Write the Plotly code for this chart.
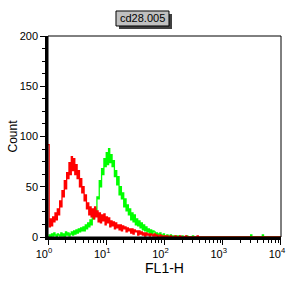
import numpy as np
import plotly.graph_objects as go

# log10 channel step of the histogram bins
bin_step = 0.02
red_counts = [
    92, 10, 18, 11, 20, 15, 24, 17, 28, 22, 36,
    30, 46, 40, 56, 48, 64, 58, 74, 62, 80,
    66, 78, 62, 72, 58, 66, 50, 58, 44, 50,
    36, 42, 28, 34, 22, 30, 20, 28, 18, 30,
    20, 26, 15, 24, 14, 22, 16, 23, 12, 20,
    14, 19, 10, 16, 11, 15, 8, 14, 9, 12,
    7, 12, 6, 11, 8, 10, 5, 9, 6, 8,
    4, 8, 3, 7, 5, 6, 2, 6, 3, 5,
    2, 4, 1, 4, 2, 3, 1, 3, 2, 1,
    3, 1, 2, 0, 1, 2, 0, 1, 0, 1,
    0, 1, 0, 0, 1, 0, 0, 0, 1, 0,
    0, 0, 1, 0, 0, 0, 0, 1, 0, 0,
    0, 0, 0, 0, 0, 0, 0, 1, 0, 0,
    0, 0, 0, 0, 0, 0, 0, 0, 0, 0,
    0, 0, 0, 0, 0, 0, 0, 0, 0, 0,
    0, 0, 0, 0, 0, 0, 0, 0, 0, 0,
    0, 0, 0, 0, 0, 0, 0, 0, 0, 0,
    0, 0, 0, 0, 0, 0, 0, 0, 0, 0,
    0, 0, 0, 0, 0, 0, 0, 0, 0, 0,
    0, 0, 0, 0, 0, 0, 0, 0, 0, 0,
]
green_counts = [
    0, 2, 0, 3, 1, 4, 2, 0, 3, 2, 1,
    4, 1, 3, 0, 5, 2, 4, 1, 3, 5,
    2, 6, 3, 7, 4, 8, 5, 9, 6, 10,
    6, 12, 8, 14, 10, 17, 12, 20, 18, 28,
    26, 40, 38, 56, 50, 68, 62, 78, 70, 84,
    72, 88, 74, 82, 70, 76, 60, 66, 52, 60,
    42, 50, 38, 44, 30, 38, 26, 32, 22, 28,
    17, 24, 15, 22, 12, 18, 11, 16, 9, 14,
    7, 12, 6, 10, 5, 8, 4, 7, 3, 6,
    5, 2, 4, 1, 3, 4, 1, 2, 3, 1,
    1, 2, 0, 1, 2, 1, 0, 1, 0, 1,
    0, 1, 0, 0, 1, 0, 0, 0, 1, 0,
    0, 0, 0, 1, 0, 0, 0, 0, 0, 0,
    0, 0, 0, 0, 0, 0, 0, 0, 0, 0,
    0, 0, 0, 0, 0, 0, 0, 0, 0, 0,
    0, 0, 0, 0, 0, 0, 0, 0, 0, 0,
    0, 0, 0, 0, 0, 0, 0, 0, 0, 0,
    0, 0, 0, 2, 0, 0, 0, 0, 0, 0,
    0, 0, 0, 2, 0, 0, 0, 0, 0, 0,
    0, 0, 0, 0, 0, 0, 0, 0, 0, 0,
]
x_tick_vals = [1, 10, 100, 1000, 10000]
x_tick_text = ["10<sup>0</sup>", "10<sup>1</sup>", "10<sup>2</sup>", "10<sup>3</sup>", "10<sup>4</sup>"]
y_tick_vals = [0, 50, 100, 150, 200]
title_text = "cd28.005"
x_label = "FL1-H"
y_label = "Count"

ch_red = 10 ** (np.arange(len(red_counts)) * bin_step)
ch_green = 10 ** (np.arange(len(green_counts)) * bin_step)

fig = go.Figure()
fig.add_trace(go.Scatter(x=ch_green, y=green_counts, mode="lines",
                         line=dict(color="#00FF00", width=1.3, shape="hv"), hoverinfo="skip"))
fig.add_trace(go.Scatter(x=ch_red, y=red_counts, mode="lines",
                         line=dict(color="#FF0000", width=1.3, shape="hv"), hoverinfo="skip"))

minor_x = [m * 10 ** d for d in range(4) for m in range(2, 10)]
font = dict(family="Liberation Sans, Arial", size=11, color="#000000")

fig.update_layout(
    width=288, height=288,
    margin=dict(l=48, r=7, t=36, b=51, autoexpand=False),
    paper_bgcolor="white", plot_bgcolor="white",
    showlegend=False,
    font=font,
    xaxis=dict(type="log", range=[0, 4.0005], tickmode="array", tickvals=x_tick_vals, ticktext=x_tick_text,
               ticks="outside", ticklen=5, tickwidth=1, tickcolor="black",
               ticklabeloverflow="allow", automargin=False, ticklabelshift=-4,
               showline=True, linecolor="black", linewidth=2.5, showgrid=False, zeroline=False,
               minor=dict(tickvals=minor_x, ticks="outside", ticklen=3, tickcolor="black", showgrid=False),
               title=dict(text=x_label, font=dict(family="Liberation Sans, Arial", size=14), standoff=2),
               tickfont=dict(size=11)),
    yaxis=dict(range=[0, 200], tickmode="array", tickvals=y_tick_vals,
               ticks="outside", ticklen=5, tickwidth=1, tickcolor="black",
               automargin=False,
               showline=True, linecolor="black", linewidth=2.5, showgrid=False, zeroline=False,
               minor=dict(dtick=12.5, ticks="outside", ticklen=3, tickcolor="black", showgrid=False),
               title=dict(text=y_label, font=dict(family="Liberation Sans, Arial", size=12), standoff=0),
               tickfont=dict(size=11)),
    shapes=[
        dict(type="rect", xref="paper", yref="paper", x0=0, x1=1, y0=0, y1=1,
             line=dict(color="black", width=1), fillcolor="rgba(0,0,0,0)", layer="above"),
        dict(type="rect", xref="paper", yref="paper", x0=0.3047, x1=0.5322, y0=1.0348, y1=1.1095,
             line=dict(width=0), fillcolor="#404040"),
        dict(type="rect", xref="paper", yref="paper", x0=0.2918, x1=0.5193, y0=1.0498, y1=1.1244,
             line=dict(color="black", width=1), fillcolor="#C0C0C0"),
    ],
    annotations=[
        dict(text=title_text, xref="paper", yref="paper", x=0.4056, y=1.0871,
             showarrow=False, xanchor="center", yanchor="middle",
             font=dict(family="Liberation Sans, Arial", size=11, color="black")),
    ],
)

fig.write_html("out.html")
